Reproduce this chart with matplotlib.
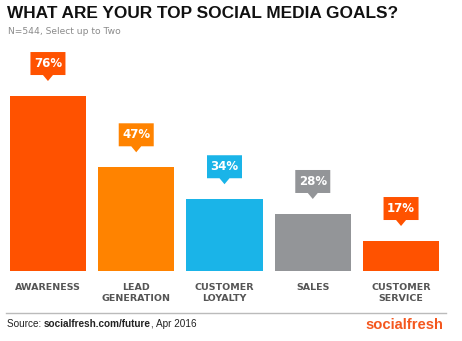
import numpy as np
import matplotlib
matplotlib.use('Agg')
import matplotlib.pyplot as plt
import matplotlib.transforms as mtransforms
from matplotlib.patches import Polygon

# Данные
categories = ['AWARENESS', 'LEAD\nGENERATION', 'CUSTOMER\nLOYALTY', 'SALES', 'CUSTOMER\nSERVICE']
values = [76, 47, 34, 28, 17]
colors = ['#FF5200', '#FF8300', '#1AB4E8', '#939598', '#FF5200']

title = 'WHAT ARE YOUR TOP SOCIAL MEDIA GOALS?'
subtitle = 'N=544, Select up to Two'

W, H = 462, 341
fig = plt.figure(figsize=(W / 100, H / 100), dpi=100)
fig.patch.set_facecolor('white')


def fy(px):
    return 1 - px / H


# оси: низ столбцов на 271 px, верх на 40 px
ax = fig.add_axes([10 / W, fy(271), 429 / W, (271 - 40) / H])
x = np.arange(len(values))
ax.bar(x, values, width=0.861, color=colors)
ax.set_xlim(-0.43, len(values) - 1 + 0.43)
ax.set_ylim(4.8, 98.8)
for s in ax.spines.values():
    s.set_visible(False)
ax.set_yticks([])
ax.set_xticks(x, categories, fontsize=6.8, fontweight='bold', color='#555555',
              linespacing=1.3)
ax.tick_params(axis='x', length=0, pad=8.5)

# выноски с процентами (размеры в дюймах)
box = np.array([[-0.175, 0.21], [-0.05, 0.21], [0, 0.15], [0.05, 0.21],
                [0.175, 0.21], [0.175, 0.44], [-0.175, 0.44]])
for i, v in enumerate(values):
    tr = fig.dpi_scale_trans + mtransforms.ScaledTranslation(i, v, ax.transData)
    ax.add_patch(Polygon(box, closed=True, facecolor=colors[i], edgecolor='none',
                         transform=tr, clip_on=False))
    ax.text(0, 0.325, f'{v}%', transform=tr, ha='center', va='center',
            color='white', fontsize=8.5, fontweight='bold')

# заголовок
fig.text(7 / W, fy(14), title, fontsize=12.4, fontweight='bold', family='Liberation Sans',
         color='#111111', va='center', ha='left')
fig.text(8 / W, fy(31), subtitle, fontsize=6.6, color='#8a8a8a', va='center', ha='left')

# разделитель и источник
fig.add_artist(plt.Line2D([6 / W, 446 / W], [fy(313), fy(313)], color='#bbbbbb', lw=1))
t1 = fig.text(7 / W, fy(324), 'Source: ', fontsize=7.2, family='Liberation Sans',
              color='#222222', va='center')
t2 = fig.text(0, 0, 'socialfresh.com/future', fontsize=7.2, family='Liberation Sans',
              fontweight='bold', color='#222222', va='center')
t3 = fig.text(0, 0, ', Apr 2016', fontsize=7.2, family='Liberation Sans',
              color='#222222', va='center')
fig.canvas.draw()
r = fig.canvas.get_renderer()
bb1 = t1.get_window_extent(r)
t2.set_position(((bb1.x1) / W, fy(324)))
bb2 = t2.get_window_extent(r)
t3.set_position(((bb2.x1) / W, fy(324)))

fig.text(443 / W, fy(325), 'socialfresh', fontsize=10.6, fontweight='bold',
         family='Liberation Sans', color='#F4571E', va='center', ha='right')

fig.savefig('out.png', dpi=100, facecolor='white')
